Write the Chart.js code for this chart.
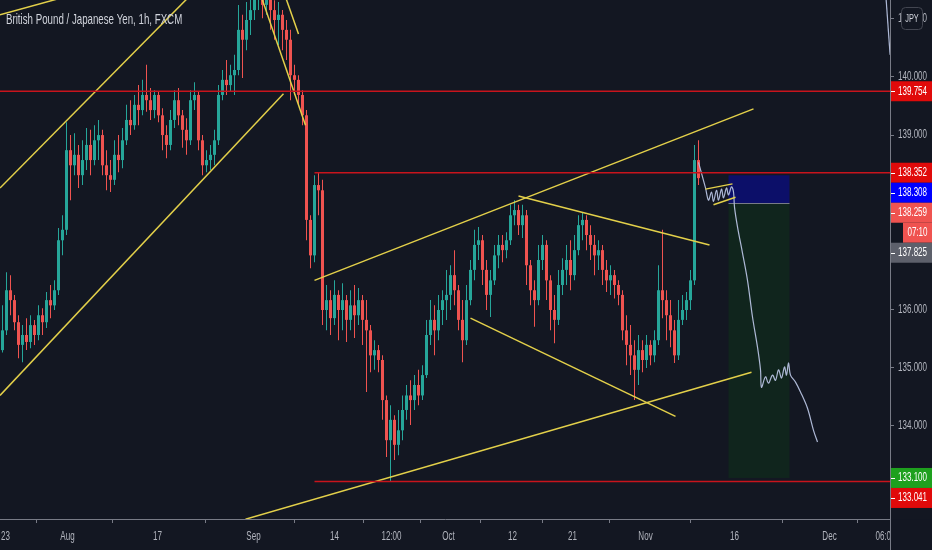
<!DOCTYPE html>
<html>
<head>
<meta charset="utf-8">
<title>British Pound / Japanese Yen, 1h, FXCM</title>
<script src="https://cdn.jsdelivr.net/npm/chart.js@4.4.1/dist/chart.umd.min.js"></script>
<style>
  html, body { margin: 0; padding: 0; background: #131722; }
  #wrap { width: 932px; height: 550px; }
</style>
</head>
<body>
<div id="wrap"><canvas id="chart" width="932" height="550"></canvas></div>
<script>
const FONT = '"Liberation Sans", Arial, sans-serif';
const SQUEEZE = 0.67; // the source lettering is narrow, squeeze text horizontally
const BG = '#131722';
const UP = '#26a69a';
const DOWN = '#ef5350';
const YELLOW = '#e3d04a';
const LEVEL_RED = '#c8141c';
const AXIS = '#787b86';
const TEXT = '#b2b5be';

// hourly candles (open = previous close)
const firstOpen = 135.30;
const closes = [
  135.64, 136.33, 136.16, 135.78, 135.39, 135.56, 135.44, 135.73, 135.56, 135.90,
  135.78, 136.16, 136.07, 136.33, 137.19, 137.37, 138.74, 138.48, 138.66, 138.31,
  138.57, 138.83, 138.57, 138.91, 139.00, 138.48, 138.31, 138.23, 138.66, 138.57,
  138.91, 139.26, 139.17, 139.52, 139.43, 139.69, 139.60, 139.43, 139.69, 139.34,
  139.00, 138.83, 139.26, 139.60, 139.34, 139.09, 138.91, 139.60, 139.69, 138.91,
  138.48, 138.57, 138.66, 138.91, 139.69, 139.95, 139.86, 140.03, 140.12, 140.81,
  140.64, 140.98, 141.15, 141.41, 141.50, 141.24, 141.41, 141.15, 140.98, 141.07,
  140.81, 140.64, 140.03, 139.95, 139.69, 139.34, 137.54, 136.93, 138.14, 138.05,
  135.99, 136.16, 135.85, 136.25, 135.99, 136.16, 135.82, 136.07, 135.90, 136.16,
  135.82, 135.64, 135.21, 135.30, 135.13, 134.44, 133.75, 134.10, 133.67, 133.92,
  134.27, 134.52, 134.44, 134.70, 134.52, 134.87, 135.56, 135.82, 135.64, 135.99,
  136.16, 136.25, 136.59, 136.33, 135.82, 135.47, 136.16, 136.68, 137.11, 137.19,
  136.68, 136.25, 136.50, 136.93, 137.11, 137.02, 137.19, 137.62, 137.71, 137.45,
  137.62, 136.76, 136.33, 136.16, 136.85, 137.11, 136.50, 135.99, 135.82, 136.42,
  136.68, 136.85, 136.59, 137.02, 137.45, 137.54, 137.28, 137.11, 136.93, 137.02,
  136.68, 136.50, 136.59, 136.42, 136.25, 135.64, 135.39, 135.21, 134.96, 135.30,
  135.13, 135.39, 135.21, 135.47, 136.33, 136.16, 135.90, 135.64, 135.21, 135.82,
  135.99, 136.16, 136.50, 138.57, 138.259
];
const highs = [
  136.07, 136.64, 136.59, 136.25, 135.90, 135.73, 135.85, 135.90, 135.82, 136.07,
  136.02, 136.30, 136.42, 136.50, 137.40, 137.62, 139.22, 139.00, 139.03, 138.83,
  138.91, 139.12, 139.09, 139.17, 139.26, 139.09, 138.74, 138.57, 138.91, 139.00,
  139.12, 139.52, 139.60, 139.69, 139.86, 139.95, 140.21, 139.81, 139.77, 139.74,
  139.46, 139.17, 139.43, 139.77, 139.81, 139.43, 139.29, 139.77, 139.91, 139.74,
  139.00, 138.74, 138.83, 139.09, 139.86, 140.12, 140.29, 140.21, 140.38, 141.24,
  141.07, 141.29, 141.58, 141.75, 141.84, 141.67, 141.75, 141.50, 141.32, 141.29,
  141.15, 140.98, 140.81, 140.21, 140.03, 139.77, 139.43, 137.62, 138.31, 138.36,
  138.23, 136.42, 136.33, 136.50, 136.33, 136.45, 136.25, 136.33, 136.42, 136.37,
  136.25, 136.16, 135.73, 135.47, 135.39, 135.21, 134.52, 134.35, 134.18, 134.27,
  134.52, 134.70, 134.78, 134.87, 134.96, 135.04, 135.82, 136.16, 136.07, 136.25,
  136.33, 136.68, 136.76, 137.02, 136.42, 136.16, 136.42, 136.85, 137.37, 137.42,
  137.28, 136.85, 136.68, 137.11, 137.28, 137.28, 137.33, 137.80, 137.88, 137.80,
  137.80, 137.71, 136.85, 136.50, 137.11, 137.28, 137.19, 136.59, 136.25, 136.68,
  136.88, 137.11, 137.19, 137.28, 137.62, 137.67, 137.62, 137.45, 137.28, 137.19,
  137.11, 136.85, 136.76, 136.68, 136.50, 136.33, 135.90, 135.73, 135.47, 135.56,
  135.47, 135.56, 135.47, 135.64, 136.76, 137.37, 136.33, 136.16, 135.82, 136.16,
  136.25, 136.30, 136.68, 138.83, 138.91
];
const lows = [
  135.26, 135.56, 135.90, 135.64, 135.16, 135.09, 135.30, 135.33, 135.39, 135.47,
  135.56, 135.68, 135.85, 135.99, 136.25, 136.93, 137.28, 137.88, 138.31, 138.09,
  138.14, 138.40, 138.31, 138.48, 138.57, 138.31, 138.05, 138.02, 138.14, 138.36,
  138.43, 138.83, 139.00, 139.09, 139.17, 139.34, 139.40, 139.26, 139.29, 139.22,
  138.74, 138.60, 138.74, 139.12, 139.17, 138.78, 138.66, 138.83, 139.43, 138.74,
  138.31, 138.36, 138.40, 138.48, 138.83, 139.60, 139.69, 139.74, 139.69, 140.03,
  139.98, 140.46, 140.72, 140.98, 141.15, 141.01, 141.07, 140.81, 140.64, 140.55,
  140.46, 140.29, 139.60, 139.69, 139.52, 139.17, 137.19, 136.71, 136.81, 137.62,
  135.73, 135.64, 135.56, 135.73, 135.47, 135.64, 135.44, 135.64, 135.51, 135.73,
  135.39, 134.58, 134.92, 134.96, 134.92, 134.10, 133.46, 133.04, 133.41, 133.49,
  133.75, 134.10, 134.01, 134.27, 134.35, 134.44, 134.82, 135.39, 135.21, 135.47,
  135.73, 135.82, 135.99, 136.07, 135.64, 135.09, 135.39, 136.07, 136.50, 136.85,
  136.42, 135.99, 135.87, 136.42, 136.71, 136.81, 136.88, 137.11, 137.45, 137.28,
  137.23, 136.42, 136.07, 135.70, 136.07, 136.68, 136.16, 135.64, 135.42, 135.73,
  136.25, 136.42, 136.33, 136.50, 136.93, 137.19, 137.02, 136.85, 136.59, 136.68,
  136.42, 136.30, 136.25, 136.19, 136.07, 135.47, 135.04, 134.87, 134.44, 134.70,
  134.92, 134.99, 135.04, 135.09, 135.39, 135.85, 135.47, 135.35, 135.08, 135.13,
  135.73, 135.82, 135.99, 136.42, 138.14
];

// time axis (bar index -> label)
const xTickPos = [0.75, 16.25, 38.75, 62.75, 83, 97.25, 111.5, 127.5, 142.5, 160.75, 183, 206.75, 220.75];
const xTickLabels = ['23', 'Aug', '17', 'Sep', '14', '12:00', 'Oct', '12', '21', 'Nov', '16', 'Dec', '06:00'];
const yTicks = [133, 134, 135, 136, 137, 138, 139, 140, 141];

// horizontal levels and where they start
const levels = [139.754, 138.352, 133.041];
const levelFrom = [-0.625, 78, 78];

// trend lines: [barA, priceA, barB, priceB]
const trendLines = [
  [-0.625, 141.07, 19.5, 141.45],
  [-0.625, 138.09, 49.5, 141.58],
  [-0.625, 134.52, 70.25, 139.71],
  [63.25, 141.67, 75.75, 139.17],
  [69.25, 141.67, 74, 140.74],
  [78, 136.50, 187.75, 139.45],
  [129, 137.95, 176.75, 137.11],
  [117, 135.85, 168.25, 134.16],
  [60.75, 132.39, 187.25, 134.92],
  [175.75, 138.07, 182.5, 138.16],
  [177.75, 137.80, 183.25, 137.93]
];

// projected path sketch
const pathBars = [174, 175.75, 176.5, 177.25, 177.75, 178.5, 179, 179.75, 180.25, 181, 181.5, 182.25, 182.75,
  183, 183.75, 185, 186.25, 187.5, 188.75, 189.5, 189.75, 190.75, 191.5, 192.5, 193.25, 194, 194.75,
  195.5, 196, 196.5, 197, 198.25, 199.5, 201.25, 202.75, 203.75];
const pathPrices = [138.53, 138.09, 137.88, 138.02, 137.86, 138.05, 137.88, 138.07, 137.92, 138.09, 137.97, 138.11, 138.02,
  137.76, 137.42, 136.97, 136.50, 135.87, 135.35, 134.96, 134.66, 134.84, 134.73, 134.87, 134.78, 134.96, 134.82,
  135.01, 134.87, 135.08, 134.87, 134.75, 134.58, 134.30, 133.92, 133.72];
const edgeBars = [220.6, 221.9];
const edgePrices = [141.63, 140.38];

// short position tool: bars and stop / entry / target
const posBars = [181.5, 196.75];
const posLevels = [138.308, 137.825, 133.100];

// price scale tags
const tagPrices = [139.754, 138.352, 138.308, 138.259, 137.825, 133.100, 133.041];
const tagColors = ['#e00a0a', '#e00a0a', '#0000ff', '#ef5350', '#5d606b', '#1ea01e', '#e00a0a'];
const countdownTag = 3;
const countdownText = '07:10';

const opens = closes.map((c, i) => i === 0 ? firstOpen : closes[i - 1]);
const candleColors = closes.map((c, i) => c >= opens[i] ? UP : DOWN);
const bodyData = closes.map((c, i) => ({ x: i, y: [opens[i], c] }));
const wickData = closes.map((c, i) => ({
  x: i,
  y: [Math.min(lows[i], opens[i], c), Math.max(highs[i], opens[i], c)]
}));

function lineSet(points, color, width, tension) {
  return {
    type: 'line', data: points, borderColor: color, borderWidth: width,
    pointRadius: 0, tension: tension || 0, clip: 0, order: 1
  };
}

const datasets = [
  { type: 'bar', data: bodyData, backgroundColor: candleColors, barThickness: 3, minBarLength: 1,
    grouped: false, borderWidth: 0, inflateAmount: 0, clip: 0, order: 20 },
  { type: 'bar', data: wickData, backgroundColor: candleColors, barThickness: 1,
    grouped: false, borderWidth: 0, inflateAmount: 0, clip: 0, order: 21 }
];
levels.forEach((p, i) => {
  datasets.push(lineSet([{ x: levelFrom[i], y: p }, { x: 221.875, y: p }], LEVEL_RED, 1.5));
});
trendLines.forEach(t => {
  datasets.push(lineSet([{ x: t[0], y: t[1] }, { x: t[2], y: t[3] }], YELLOW, 1.5));
});
datasets.push(lineSet(pathBars.map((b, i) => ({ x: b, y: pathPrices[i] })), '#aeb9d6', 1.2, 0.35));
datasets.push(lineSet(edgeBars.map((b, i) => ({ x: b, y: edgePrices[i] })), '#aeb9d6', 1.2));

// narrow text helper
function label(ctx, text, x, y, size, color, align) {
  ctx.save();
  ctx.font = size + 'px ' + FONT;
  ctx.fillStyle = color;
  ctx.textAlign = align || 'left';
  ctx.textBaseline = 'middle';
  ctx.translate(x, y);
  ctx.scale(SQUEEZE, 1);
  ctx.fillText(text, 0, 0);
  ctx.restore();
}

const backgroundPlugin = {
  id: 'background',
  beforeDraw(chart) {
    const ctx = chart.ctx;
    ctx.save();
    ctx.fillStyle = BG;
    ctx.fillRect(0, 0, chart.width, chart.height);
    ctx.restore();
  }
};

const positionPlugin = {
  id: 'position',
  beforeDatasetsDraw(chart) {
    const { ctx, scales: { x, y } } = chart;
    const x1 = x.getPixelForValue(posBars[0]);
    const x2 = x.getPixelForValue(posBars[1]);
    const yStop = y.getPixelForValue(posLevels[0]);
    const yEntry = y.getPixelForValue(posLevels[1]);
    const yTarget = y.getPixelForValue(posLevels[2]);
    ctx.save();
    ctx.fillStyle = 'rgba(0, 0, 255, 0.32)';
    ctx.fillRect(x1, yStop, x2 - x1, yEntry - yStop);
    ctx.fillStyle = 'rgba(0, 128, 0, 0.13)';
    ctx.fillRect(x1, yEntry, x2 - x1, yTarget - yEntry);
    ctx.strokeStyle = AXIS;
    ctx.lineWidth = 1;
    ctx.beginPath();
    ctx.moveTo(x1, Math.round(yEntry) + 0.5);
    ctx.lineTo(x2, Math.round(yEntry) + 0.5);
    ctx.stroke();
    ctx.restore();
  }
};

const overlayPlugin = {
  id: 'overlay',
  afterDraw(chart) {
    const { ctx, chartArea, scales: { x, y } } = chart;
    const axisX = chartArea.right;
    ctx.save();

    // time labels
    xTickPos.forEach((v, i) => {
      label(ctx, xTickLabels[i], x.getPixelForValue(v), 537, 12, TEXT, 'center');
    });

    // corner under the price scale, clips the last time label
    ctx.fillStyle = BG;
    ctx.fillRect(axisX + 0.5, chartArea.bottom + 0.5, chart.width - axisX, chart.height - chartArea.bottom);
    ctx.strokeStyle = AXIS;
    ctx.lineWidth = 1;
    ctx.beginPath();
    ctx.moveTo(Math.round(axisX) + 0.5, 0);
    ctx.lineTo(Math.round(axisX) + 0.5, chart.height);
    ctx.stroke();

    // price labels
    yTicks.forEach(v => {
      label(ctx, v.toFixed(3), axisX + 8, y.getPixelForValue(v), 12, TEXT);
    });

    // price tags, pushed down so they do not overlap
    let prevBottom = -Infinity;
    tagPrices.forEach((p, i) => {
      const cy = Math.max(y.getPixelForValue(p), prevBottom + 10);
      ctx.fillStyle = tagColors[i];
      ctx.fillRect(axisX + 1, cy - 10, chart.width - axisX, 20);
      ctx.strokeStyle = '#ffffff';
      ctx.beginPath();
      ctx.moveTo(axisX + 1, Math.round(cy) + 0.5);
      ctx.lineTo(axisX + 5, Math.round(cy) + 0.5);
      ctx.stroke();
      label(ctx, p.toFixed(3), axisX + 8, cy, 12, '#ffffff');
      prevBottom = cy + 10;
      if (i === countdownTag) {
        ctx.fillStyle = tagColors[i];
        ctx.fillRect(axisX + 13, cy + 10, chart.width - axisX - 13, 20);
        label(ctx, countdownText, (axisX + 13 + chart.width) / 2, cy + 20, 12, '#ffffff', 'center');
        prevBottom = cy + 30;
      }
    });

    // currency badge
    ctx.fillStyle = BG;
    ctx.strokeStyle = '#434651';
    ctx.beginPath();
    ctx.roundRect(901.5, 7.5, 21, 22, 4);
    ctx.fill();
    ctx.stroke();
    label(ctx, 'JPY', 912, 18.5, 11, '#d1d4dc', 'center');

    // symbol title
    label(ctx, 'British Pound / Japanese Yen, 1h, FXCM', 6, 20, 14.5, '#d1d4dc');
    ctx.restore();
  }
};

Chart.defaults.font.family = FONT;

new Chart(document.getElementById('chart'), {
  type: 'bar',
  data: { datasets },
  options: {
    responsive: false,
    animation: false,
    events: [],
    layout: { padding: 0 },
    plugins: { legend: { display: false }, tooltip: { enabled: false } },
    scales: {
      x: {
        type: 'linear', min: -0.625, max: 221.875, offset: false,
        afterBuildTicks: s => { s.ticks = xTickPos.map(v => ({ value: v })); },
        afterFit: s => { s.height = 31; s.paddingLeft = 0; s.paddingRight = 0; },
        ticks: { display: false },
        grid: { drawOnChartArea: false, drawTicks: true, tickLength: 4, tickColor: AXIS },
        border: { color: AXIS }
      },
      y: {
        type: 'linear', position: 'right', min: 132.394, max: 141.324,
        afterBuildTicks: s => { s.ticks = yTicks.map(v => ({ value: v })); },
        afterFit: s => { s.width = 42; s.paddingTop = 0; s.paddingBottom = 0; },
        ticks: { display: false },
        grid: { drawOnChartArea: false, drawTicks: true, tickLength: 4, tickColor: AXIS },
        border: { color: AXIS }
      }
    }
  },
  plugins: [backgroundPlugin, positionPlugin, overlayPlugin]
});
</script>
</body>
</html>
